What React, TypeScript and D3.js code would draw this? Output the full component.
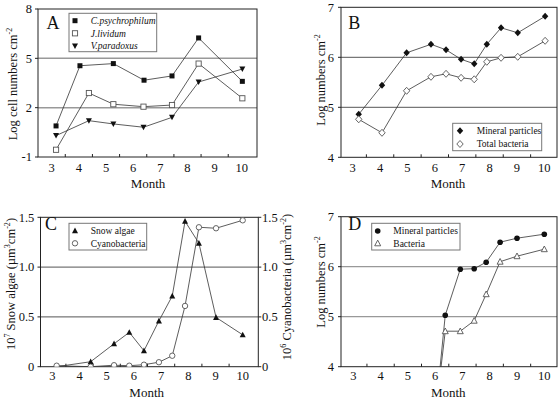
import React from "react";
import * as d3 from "d3";

// ---------- shared ----------
const monthLabels = [3, 4, 5, 6, 7, 8, 9, 10];
const monthMinorTicks = [3.5, 4.5, 5.5, 6.5, 7.5, 8.5, 9.5];

// ---------- Panel A ----------
const aMonthsC = [3.16, 4.04, 5.27, 6.4, 7.43, 8.41, 10.02];
const aMonthsJV = [3.16, 4.37, 5.27, 6.38, 7.43, 8.41, 10.02];
const aCpsychrophilum = [0.89, 4.55, 4.68, 3.67, 3.93, 6.24, 3.6];
const aJlividum = [-0.56, 2.89, 2.21, 2.06, 2.16, 4.68, 2.57];
const aVparadoxus = [0.3, 1.21, 1.01, 0.81, 1.41, 3.56, 4.35];
const aYTicks = [-1, 2, 5, 8];
const aGrid = [2, 5];

// ---------- Panel B ----------
const bMonths = [3.22, 4.07, 4.97, 5.86, 6.41, 6.96, 7.44, 7.9, 8.42, 9.03, 10.03];
const bMineral = [4.86, 5.44, 6.09, 6.26, 6.15, 5.96, 5.87, 6.26, 6.59, 6.49, 6.82];
const bBacteria = [4.76, 4.49, 5.33, 5.61, 5.67, 5.59, 5.56, 5.91, 5.99, 6.01, 6.33];
const bYTicks = [4, 5, 6, 7];
const bGrid = [5, 6];

// ---------- Panel C ----------
const cMonths = [3.16, 4.41, 5.27, 5.83, 6.37, 6.92, 7.41, 7.88, 8.39, 9.02, 10.0];
const cSnowAlgae = [0, 0.05, 0.23, 0.345, 0.16, 0.46, 0.71, 1.46, 1.24, 0.495, 0.32];
const cCyanobacteria = [0.01, 0, 0.015, 0.01, 0.02, 0.045, 0.11, 0.61, 1.4, 1.39, 1.47];
const cYTicks = [0, 0.5, 1.0, 1.5];
const cGrid = [0.5, 1.0];

// ---------- Panel D ----------
const dMonths = [6.0, 6.37, 6.92, 7.43, 7.87, 8.38, 9.0, 10.0];
const dMineral = [3.0, 5.03, 5.95, 5.96, 6.09, 6.49, 6.57, 6.65];
const dBacteria = [3.0, 4.71, 4.71, 4.92, 5.45, 6.1, 6.21, 6.35];
const dYTicks = [4, 5, 6, 7];
const dGrid = [5, 6];

const FONT = "'Liberation Serif', 'DejaVu Serif', serif";

type Seg = { t: string; sup?: boolean };

function Rich({ segs, fs }: { segs: Seg[]; fs: number }) {
  return (
    <>
      {segs.map((s, i) =>
        s.sup ? (
          <tspan key={i} dy={-fs * 0.4} fontSize={fs * 0.65}>
            {s.t}
          </tspan>
        ) : (
          <tspan key={i} dy={i > 0 && segs[i - 1].sup ? fs * 0.4 : 0}>
            {s.t}
          </tspan>
        )
      )}
    </>
  );
}

type MarkerKind =
  | "square"
  | "squareOpen"
  | "triDown"
  | "diamond"
  | "diamondOpen"
  | "tri"
  | "triOpen"
  | "circle"
  | "circleOpen";

function Marker({ kind, x, y }: { kind: MarkerKind; x: number; y: number }) {
  const dark = "#111";
  const open = { fill: "#fff", stroke: "#555", strokeWidth: 0.9 };
  switch (kind) {
    case "square":
      return <rect x={x - 2.5} y={y - 2.5} width={5} height={5} fill={dark} />;
    case "squareOpen":
      return <rect x={x - 2.6} y={y - 2.6} width={5.2} height={5.2} {...open} />;
    case "triDown":
      return <path d={`M${x - 3},${y - 2.5}L${x + 3},${y - 2.5}L${x},${y + 3}Z`} fill={dark} />;
    case "diamond":
      return <path d={`M${x},${y - 3.5}L${x + 3.2},${y}L${x},${y + 3.5}L${x - 3.2},${y}Z`} fill={dark} />;
    case "diamondOpen":
      return <path d={`M${x},${y - 3.5}L${x + 3.2},${y}L${x},${y + 3.5}L${x - 3.2},${y}Z`} {...open} />;
    case "tri":
      return <path d={`M${x},${y - 3.2}L${x + 3},${y + 2.5}L${x - 3},${y + 2.5}Z`} fill={dark} />;
    case "triOpen":
      return <path d={`M${x},${y - 3.2}L${x + 3},${y + 2.5}L${x - 3},${y + 2.5}Z`} {...open} />;
    case "circle":
      return <circle cx={x} cy={y} r={2.8} fill={dark} />;
    case "circleOpen":
      return <circle cx={x} cy={y} r={2.7} {...open} />;
  }
  return null;
}

type Series = { months: number[]; values: number[]; marker: MarkerKind; label: string };

type PanelCfg = {
  id: string;
  letter: string;
  letterX: number;
  letterY: number;
  l: number;
  r: number;
  t: number;
  b: number;
  x3: number;
  x10: number;
  yDomain: [number, number];
  yTicks: number[];
  yFmt: (v: number) => string;
  grid: number[];
  gridColor: string;
  gridWidth: number;
  yLabelRight: number;
  yTitle: Seg[];
  yTitleX: number;
  yTitleY: number;
  tickBaseline: number;
  monthBaseline: number;
  monthX: number;
  legend: { l: number; t: number; r: number; b: number; rowsY: number[]; markerX: number; textX: number; italic: boolean };
  series: Series[];
  right?: { labelX: number; title: Seg[]; titleX: number; titleY: number };
};

function Panel({ c }: { c: PanelCfg }) {
  const x = d3.scaleLinear().domain([3, 10]).range([c.x3, c.x10]);
  const y = d3.scaleLinear().domain(c.yDomain).range([c.b, c.t]);
  const line = d3
    .line<[number, number]>()
    .x((d) => x(d[0]))
    .y((d) => y(d[1]));
  const clipId = `clip-${c.id}`;
  return (
    <g>
      <defs>
        <clipPath id={clipId}>
          <rect x={c.l} y={c.t - 6} width={c.r - c.l} height={c.b - c.t + 6} />
        </clipPath>
      </defs>
      {c.grid.map((g) => (
        <line key={g} x1={c.l} x2={c.r} y1={y(g)} y2={y(g)} stroke={c.gridColor} strokeWidth={c.gridWidth} />
      ))}
      <rect x={c.l} y={c.t} width={c.r - c.l} height={c.b - c.t} fill="none" stroke="#222" strokeWidth={1} />
      {monthMinorTicks.map((m) => (
        <line key={m} x1={x(m)} x2={x(m)} y1={c.b} y2={c.b - 3} stroke="#222" strokeWidth={1} />
      ))}
      {monthLabels.map((m) => (
        <text key={m} x={x(m)} y={c.tickBaseline} fontSize={12.5} textAnchor="middle" fill="#111">
          {m}
        </text>
      ))}
      <text x={c.monthX} y={c.monthBaseline} fontSize={13} textAnchor="middle" fill="#111">
        Month
      </text>
      {c.yTicks.map((v) => (
        <g key={v}>
          <line x1={c.l - 3} x2={c.l} y1={y(v)} y2={y(v)} stroke="#222" />
          <text x={c.yLabelRight} y={y(v)} dy="0.35em" fontSize={12.5} textAnchor="end" fill="#111">
            {c.yFmt(v)}
          </text>
        </g>
      ))}
      <text transform={`translate(${c.yTitleX},${c.yTitleY}) rotate(-90)`} fontSize={12.5} textAnchor="middle" fill="#111">
        <Rich segs={c.yTitle} fs={12.5} />
      </text>
      {c.right && (
        <g>
          {c.yTicks.map((v) => (
            <g key={v}>
              <line x1={c.r} x2={c.r + 3} y1={y(v)} y2={y(v)} stroke="#222" />
              <text x={c.right!.labelX} y={y(v)} dy="0.35em" fontSize={12.5} textAnchor="start" fill="#111">
                {c.yFmt(v)}
              </text>
            </g>
          ))}
          <text
            transform={`translate(${c.right.titleX},${c.right.titleY}) rotate(-90)`}
            fontSize={12.5}
            textAnchor="middle"
            fill="#111"
          >
            <Rich segs={c.right.title} fs={12.5} />
          </text>
        </g>
      )}
      <g clipPath={`url(#${clipId})`}>
        {c.series.map((s, i) => {
          const pts: [number, number][] = s.months.map((m, j) => [m, s.values[j]]);
          return <path key={i} d={line(pts) || ""} fill="none" stroke="#333" strokeWidth={0.8} />;
        })}
        {c.series.map((s, i) => (
          <g key={i}>
            {s.months.map((m, j) => (
              <Marker key={j} kind={s.marker} x={x(m)} y={y(s.values[j])} />
            ))}
          </g>
        ))}
      </g>
      <text x={c.letterX} y={c.letterY} fontSize={18} fill="#111">
        {c.letter}
      </text>
      <rect
        x={c.legend.l}
        y={c.legend.t}
        width={c.legend.r - c.legend.l}
        height={c.legend.b - c.legend.t}
        fill="#fff"
        stroke="#777"
        strokeWidth={1}
      />
      {c.series.map((s, i) => (
        <g key={i}>
          <Marker kind={s.marker} x={c.legend.markerX} y={c.legend.rowsY[i]} />
          <text
            x={c.legend.textX}
            y={c.legend.rowsY[i]}
            dy="0.35em"
            fontSize={9.5}
            fontStyle={c.legend.italic ? "italic" : "normal"}
            fill="#111"
          >
            {s.label}
          </text>
        </g>
      ))}
    </g>
  );
}

const intFmt = (v: number) => String(v);
const cFmt = (v: number) => (v === 0 ? "0" : v.toFixed(1));

const panels: PanelCfg[] = [
  {
    id: "A",
    letter: "A",
    letterX: 46.5,
    letterY: 29.3,
    l: 38,
    r: 257,
    t: 9,
    b: 157,
    x3: 51.7,
    x10: 241.8,
    yDomain: [-1, 8],
    yTicks: aYTicks,
    yFmt: intFmt,
    grid: aGrid,
    gridColor: "#999",
    gridWidth: 1.5,
    yLabelRight: 32,
    yTitle: [{ t: "Log cell numbers cm" }, { t: "-2", sup: true }],
    yTitleX: 17,
    yTitleY: 84,
    tickBaseline: 172,
    monthBaseline: 188,
    monthX: 148,
    legend: { l: 69, t: 13.3, r: 156.7, b: 51.7, rowsY: [20.7, 33.3, 46], markerX: 75, textX: 90.7, italic: true },
    series: [
      { months: aMonthsC, values: aCpsychrophilum, marker: "square", label: "C.psychrophilum" },
      { months: aMonthsJV, values: aJlividum, marker: "squareOpen", label: "J.lividum" },
      { months: aMonthsJV, values: aVparadoxus, marker: "triDown", label: "V.paradoxus" },
    ],
  },
  {
    id: "B",
    letter: "B",
    letterX: 348.3,
    letterY: 29.3,
    l: 341,
    r: 557,
    t: 7.3,
    b: 157.3,
    x3: 352.7,
    x10: 544.3,
    yDomain: [4, 7],
    yTicks: bYTicks,
    yFmt: intFmt,
    grid: bGrid,
    gridColor: "#555",
    gridWidth: 1,
    yLabelRight: 334,
    yTitle: [{ t: "Log numbers cm" }, { t: "-2", sup: true }],
    yTitleX: 325,
    yTitleY: 80,
    tickBaseline: 172,
    monthBaseline: 188,
    monthX: 448,
    legend: { l: 452.7, t: 123.3, r: 541.7, b: 150.7, rowsY: [130.7, 144], markerX: 460, textX: 476.7, italic: false },
    series: [
      { months: bMonths, values: bMineral, marker: "diamond", label: "Mineral particles" },
      { months: bMonths, values: bBacteria, marker: "diamondOpen", label: "Total bacteria" },
    ],
  },
  {
    id: "C",
    letter: "C",
    letterX: 45,
    letterY: 230,
    l: 40.5,
    r: 258.3,
    t: 217.3,
    b: 366.7,
    x3: 52.3,
    x10: 242.7,
    yDomain: [0, 1.5],
    yTicks: cYTicks,
    yFmt: cFmt,
    grid: cGrid,
    gridColor: "#555",
    gridWidth: 1,
    yLabelRight: 34.3,
    yTitle: [{ t: "10" }, { t: "7", sup: true }, { t: " Snow algae (µm" }, { t: "3", sup: true }, { t: "cm" }, { t: "-2", sup: true }, { t: ")" }],
    yTitleX: 15,
    yTitleY: 284,
    tickBaseline: 380,
    monthBaseline: 397,
    monthX: 146.7,
    legend: { l: 69, t: 223.3, r: 146.7, b: 250, rowsY: [230.7, 243.3], markerX: 75, textX: 90.7, italic: false },
    series: [
      { months: cMonths, values: cSnowAlgae, marker: "tri", label: "Snow algae" },
      { months: cMonths, values: cCyanobacteria, marker: "circleOpen", label: "Cyanobacteria" },
    ],
    right: {
      labelX: 262,
      title: [{ t: "10" }, { t: "6", sup: true }, { t: " Cyanobacteria (µm" }, { t: "3", sup: true }, { t: "cm" }, { t: "-2", sup: true }, { t: ")" }],
      titleX: 290.5,
      titleY: 287,
    },
  },
  {
    id: "D",
    letter: "D",
    letterX: 348.3,
    letterY: 229.5,
    l: 341,
    r: 557,
    t: 216.7,
    b: 366.7,
    x3: 353.3,
    x10: 544.3,
    yDomain: [4, 7],
    yTicks: dYTicks,
    yFmt: intFmt,
    grid: dGrid,
    gridColor: "#999",
    gridWidth: 1.2,
    yLabelRight: 334,
    yTitle: [{ t: "Log numbers cm" }, { t: "-2", sup: true }],
    yTitleX: 325,
    yTitleY: 282,
    tickBaseline: 380,
    monthBaseline: 397,
    monthX: 448.3,
    legend: { l: 371.7, t: 223.3, r: 460, b: 250, rowsY: [231, 243.3], markerX: 377.7, textX: 393.3, italic: false },
    series: [
      { months: dMonths, values: dMineral, marker: "circle", label: "Mineral particles" },
      { months: dMonths, values: dBacteria, marker: "triOpen", label: "Bacteria" },
    ],
  },
];

export default function App() {
  return (
    <svg
      width={560}
      height={401}
      viewBox="0 0 560 401"
      style={{ position: "absolute", left: 0, top: 0, background: "#fff", display: "block", fontFamily: FONT }}
    >
      <rect x={0} y={0} width={560} height={401} fill="#fff" />
      {panels.map((p) => (
        <Panel key={p.id} c={p} />
      ))}
    </svg>
  );
}
